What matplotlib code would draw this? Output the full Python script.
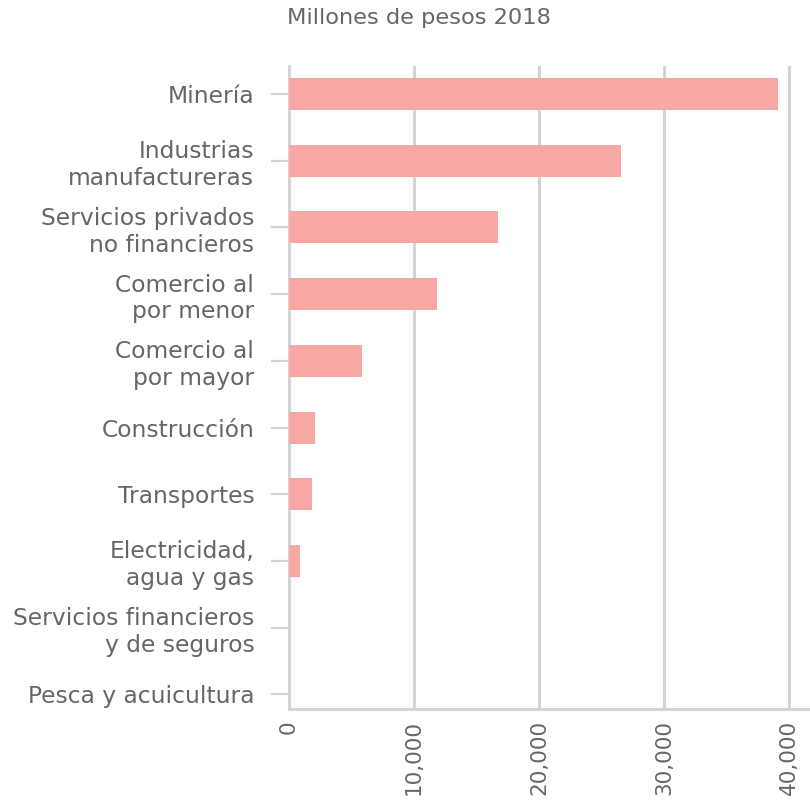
import matplotlib.pyplot as plt
from matplotlib.ticker import FuncFormatter

categorias = ['Minería', 'Industrias\nmanufactureras', 'Servicios privados\nno financieros',
              'Comercio al\npor menor', 'Comercio al\npor mayor', 'Construcción',
              'Transportes', 'Electricidad,\nagua y gas', 'Servicios financieros\ny de seguros',
              'Pesca y acuicultura']
valores = [39100, 26550, 16700, 11850, 5800, 2050, 1850, 850, 0, 0]
ticks_x = [0, 10000, 20000, 30000, 40000]

gris_texto = '#666666'
gris_linea = '#d4d4d6'

fig = plt.figure(figsize=(8.1, 8.02), dpi=100)
ax = fig.add_axes([289 / 810, 1 - 709 / 802, 1 - 289 / 810, (709 - 66) / 802])

pos = list(range(len(categorias)))
ax.barh(pos, valores, height=0.48, color='#f7a8a5', zorder=3)

ax.set_ylim(len(categorias) - 1 + 0.22, -0.42)
ax.set_xlim(0, 41680)
ax.set_xticks(ticks_x)
ax.xaxis.set_major_formatter(FuncFormatter(lambda v, p: f'{int(v):,}'))
ax.set_yticks(pos)
ax.set_yticklabels(categorias)

ax.grid(axis='x', color=gris_linea, linewidth=2.2, zorder=0)
for s in ['top', 'right']:
    ax.spines[s].set_visible(False)
for s in ['left', 'bottom']:
    ax.spines[s].set_color(gris_linea)
    ax.spines[s].set_linewidth(2.2)

ax.tick_params(axis='y', length=13, width=1.6, color=gris_linea, pad=12,
               labelsize=16.8, labelcolor=gris_texto)
ax.tick_params(axis='x', length=0, pad=8, labelsize=15.5, labelcolor=gris_texto,
               labelrotation=90)
for t in ax.get_yticklabels():
    t.set_linespacing(1.2)

fig.text(287 / 810, 1 - 18 / 802, 'Millones de pesos 2018', ha='left', va='center',
         fontsize=16.2, color=gris_texto)

plt.savefig('out.png', dpi=100)
